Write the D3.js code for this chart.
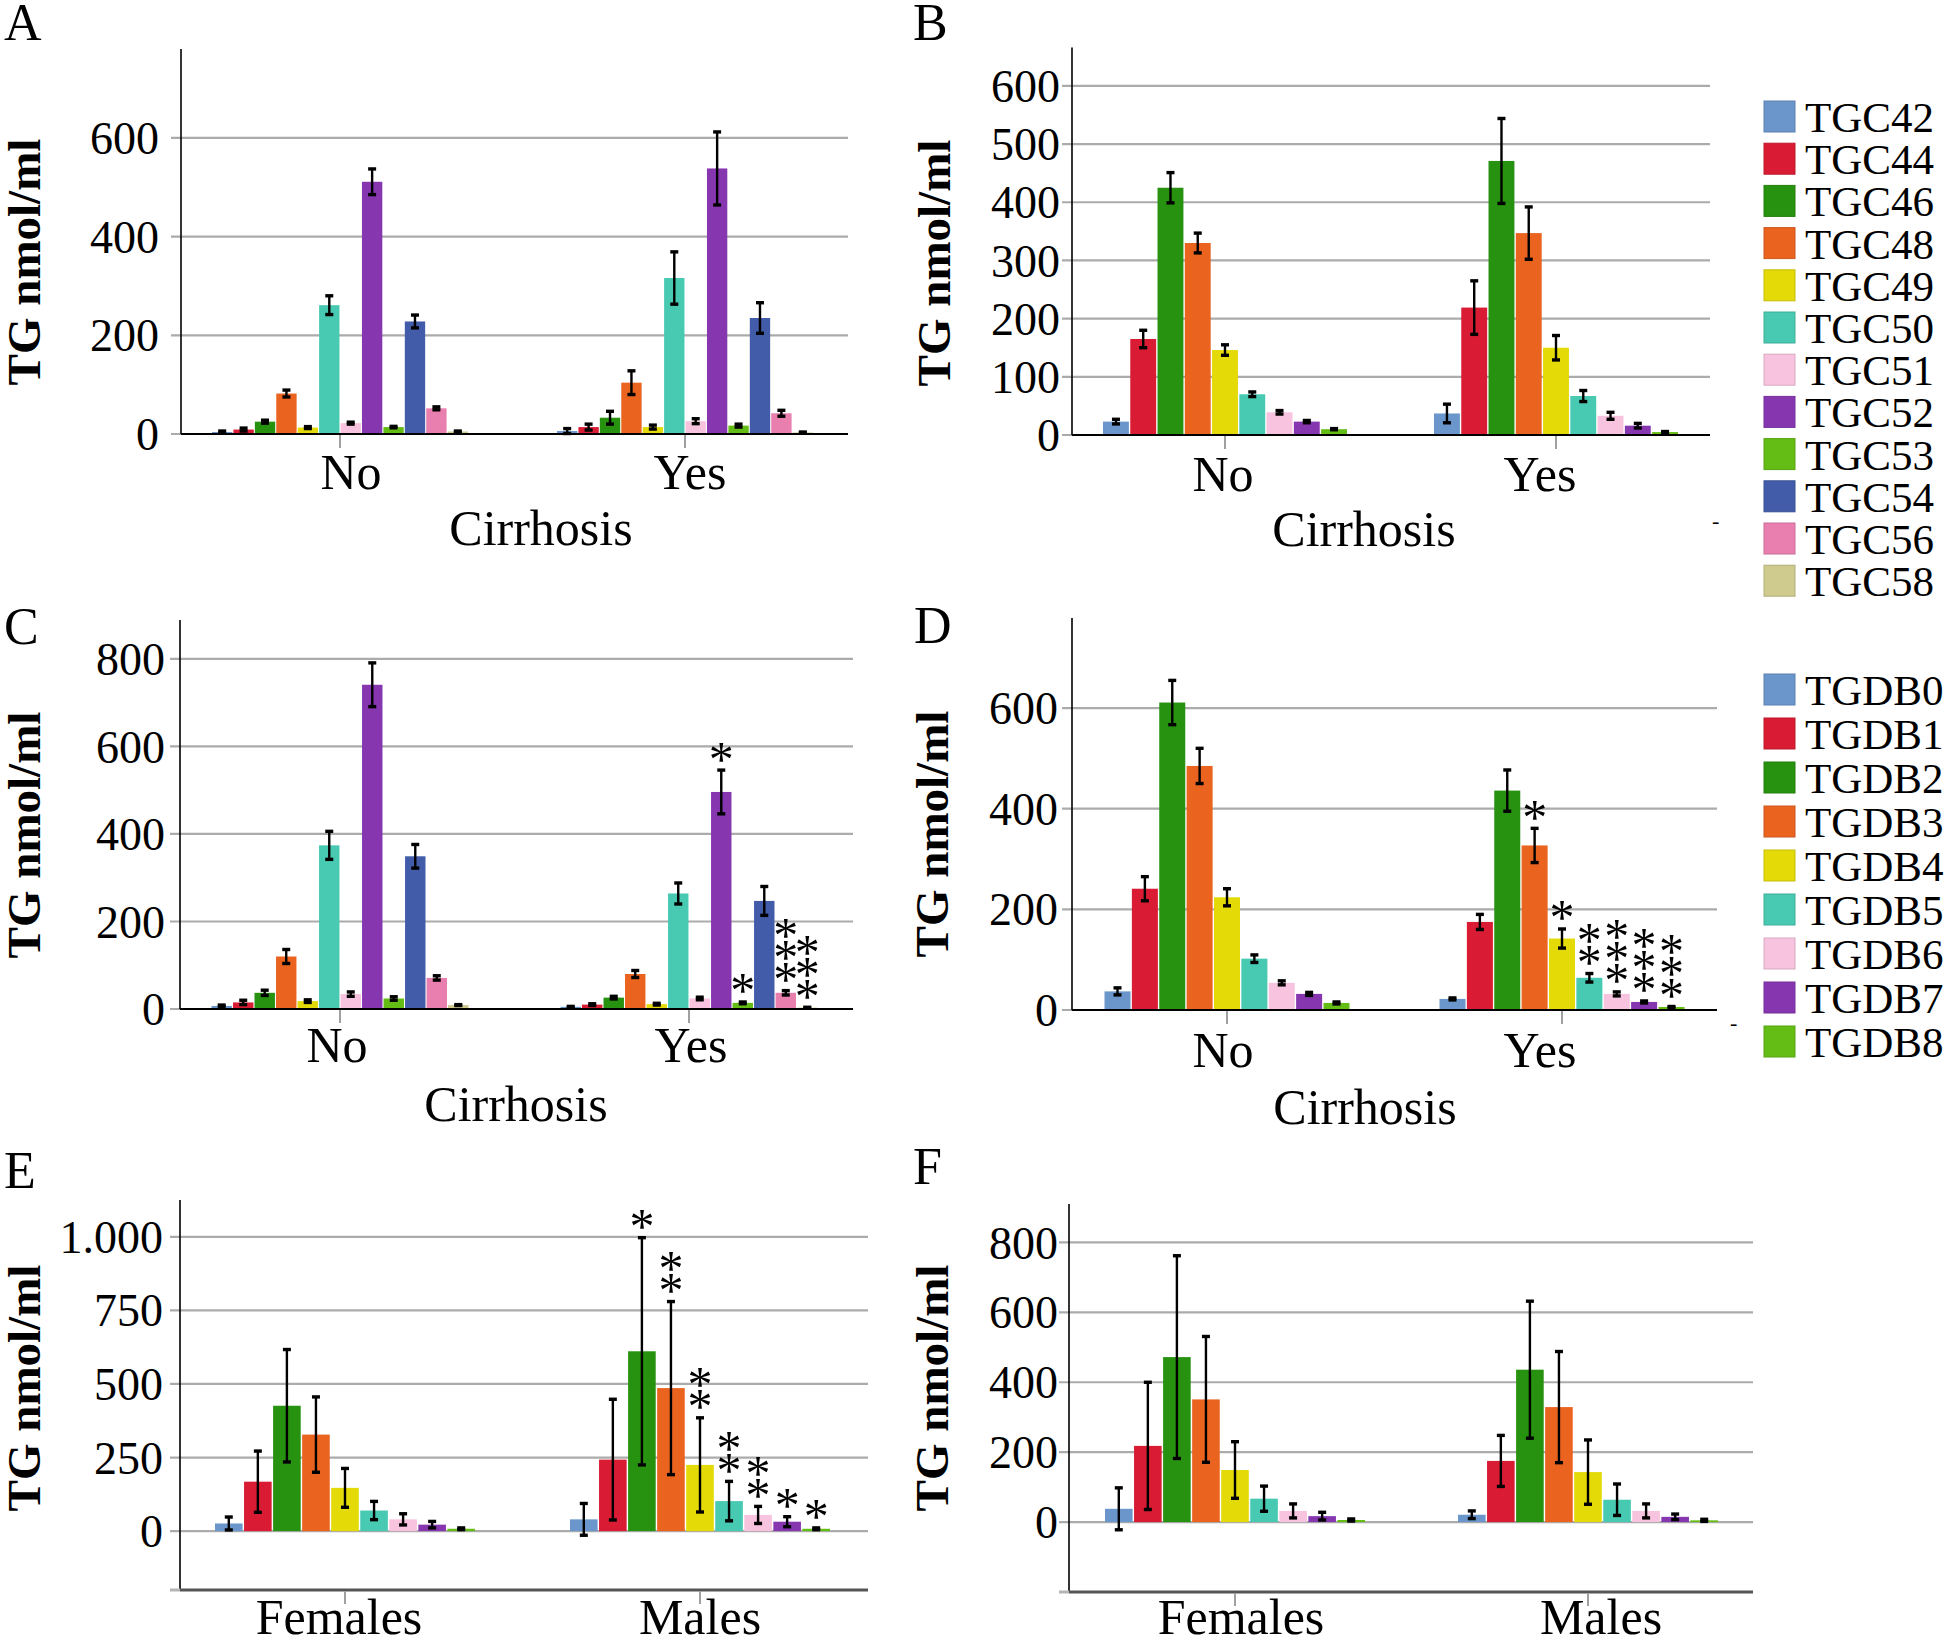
<!DOCTYPE html>
<html><head><meta charset="utf-8">
<script src="https://cdn.jsdelivr.net/npm/d3@7"></script>
<style>
body{margin:0;background:#fff}
text{font-family:"Liberation Serif","Times New Roman",serif;fill:#000}
</style>
</head><body><svg id="c" width="1944" height="1639"></svg>
<script>
// ---------- data ----------
const tgcSeries = ["TGC42","TGC44","TGC46","TGC48","TGC49","TGC50","TGC51","TGC52","TGC53","TGC54","TGC56","TGC58"];
const tgdbSeries = ["TGDB0","TGDB1","TGDB2","TGDB3","TGDB4","TGDB5","TGDB6","TGDB7","TGDB8"];
const tgcColors = ["#6a96cb","#d91c33","#27920f","#ea6420","#e3da07","#47c9b2","#f8c3df","#8637b0","#64bd15","#425caa","#e97fae","#cfca8d"];
const tgdbColors = ["#6a96cb","#d91c33","#27920f","#ea6420","#e3da07","#47c9b2","#f8c3df","#8637b0","#64bd15"];
const cirrhosisCats = ["No","Yes"];
const sexCats = ["Females","Males"];

const aMeansNo  = [4, 9, 25, 82, 13, 261, 22, 511, 14, 228, 52, 5];
const aErrNo    = [2, 3, 3, 7, 2, 19, 2, 26, 1.5, 13, 3, 1];
const aMeansYes = [6, 14, 33, 104, 14, 316, 26, 538, 17, 235, 42, 3];
const aErrYes   = [5, 6, 13, 24, 4, 53, 5, 74, 3, 31, 6, 1];

const bMeansNo  = [23, 165, 425, 330, 146, 70, 39, 23, 10];
const bErrNo    = [4, 15, 26, 17, 9, 4, 3, 2, 1];
const bMeansYes = [37, 219, 471, 347, 150, 67, 33, 16, 5];
const bErrYes   = [16, 46, 73, 45, 21, 9.5, 6, 4, 1];

const cMeansNo  = [7, 15, 37, 120, 18, 374, 34, 741, 24, 349, 71, 9];
const cErrNo    = [2, 5, 6, 16, 3, 32, 5, 50, 4, 27, 5, 1];
const cMeansYes = [5, 10, 26, 80, 11, 264, 24, 496, 14, 247, 37, 3];
const cErrYes   = [1, 2, 3, 8, 2, 24, 3, 50, 2, 33, 5, 1];
const cStarsYes = [0, 0, 0, 0, 0, 0, 0, 1, 1, 0, 3, 3];

const dMeansNo  = [37, 241, 611, 485, 224, 102, 54, 32, 14];
const dErrNo    = [7, 24, 44, 35, 17, 7.5, 4, 3, 2];
const dMeansYes = [22, 175, 436, 327, 142, 64, 32, 16, 6];
const dErrYes   = [2, 15, 41, 34, 19, 8.5, 4, 2, 1];
const dStarsYes = [0, 0, 0, 1, 1, 2, 3, 3, 3];

const eMeansF = [26, 168, 426, 328, 147, 70, 40, 22, 8];
const eErrF   = [22, 104, 191, 128, 66, 31, 19, 11, 3];
const eMeansM = [40, 243, 611, 486, 225, 102, 55, 32, 8];
const eErrM   = [54, 205, 386, 294, 160, 67, 29, 17, 3];
const eStarsM = [0, 0, 1, 2, 2, 2, 2, 1, 1];

const fMeansF = [38, 218, 472, 351, 149, 67, 32, 17, 6];
const fErrF   = [60, 182, 290, 180, 81, 36, 20, 11, 3];
const fMeansM = [21, 175, 436, 329, 143, 64, 32, 15, 5];
const fErrM   = [11, 73, 196, 159, 92, 45, 20, 8, 3];

const ticksA = [0, 200, 400, 600];
const ticksB = [0, 100, 200, 300, 400, 500, 600];
const ticksC = [0, 200, 400, 600, 800];
const ticksD = [0, 200, 400, 600];
const ticksE = [0, 250, 500, 750, 1000];
const ticksF = [0, 200, 400, 600, 800];

const yTitle = "TG nmol/ml";
const xTitleCirr = "Cirrhosis";

// ---------- layout ----------
const euro = d3.formatLocale({decimal:",", thousands:".", grouping:[3], currency:["",""]}).format(",d");

const panels = [
  {letter:"A", lx:4, ly:40, cats:cirrhosisCats, series:tgcSeries, colors:tgcColors,
   means:[aMeansNo,aMeansYes], errs:[aErrNo,aErrYes], stars:null, ticks:ticksA, fmt:d3.format("d"),
   domain:[0,780], yr:[434,49], left:181, right:848, cx:[340,685], catDx:[11,5], gw:256,
   ylabX:40, ylabY:262, tlGap:22, catY:489, title:xTitleCirr, titleX:541, titleY:545, bottomAxis:false},
  {letter:"B", lx:913, ly:40, cats:cirrhosisCats, series:tgdbSeries, colors:tgdbColors,
   means:[bMeansNo,bMeansYes], errs:[bErrNo,bErrYes], stars:null, ticks:ticksB, fmt:d3.format("d"),
   domain:[0,666], yr:[435,47.5], left:1072, right:1710, cx:[1225,1556], catDx:[-2,-16], gw:244,
   ylabX:950, ylabY:263, tlGap:12, catY:491, title:xTitleCirr, titleX:1364, titleY:546, bottomAxis:false},
  {letter:"C", lx:4, ly:644, cats:cirrhosisCats, series:tgcSeries, colors:tgcColors,
   means:[cMeansNo,cMeansYes], errs:[cErrNo,cErrYes], stars:[null,cStarsYes], ticks:ticksC, fmt:d3.format("d"),
   domain:[0,889], yr:[1009,620], left:180, right:853, cx:[340,689], catDx:[-3,2], gw:257,
   ylabX:40, ylabY:835, tlGap:15, catY:1062, title:xTitleCirr, titleX:516, titleY:1121, bottomAxis:false},
  {letter:"D", lx:914, ly:643, cats:cirrhosisCats, series:tgdbSeries, colors:tgdbColors,
   means:[dMeansNo,dMeansYes], errs:[dErrNo,dErrYes], stars:[null,dStarsYes], ticks:ticksD, fmt:d3.format("d"),
   domain:[0,779], yr:[1010,618], left:1072, right:1717, cx:[1227,1562], catDx:[-4,-22], gw:245,
   ylabX:948, ylabY:834, tlGap:14, catY:1067, title:xTitleCirr, titleX:1365, titleY:1124, bottomAxis:false},
  {letter:"E", lx:4, ly:1188, cats:sexCats, series:tgdbSeries, colors:tgdbColors,
   means:[eMeansF,eMeansM], errs:[eErrF,eErrM], stars:[null,eStarsM], ticks:ticksE, fmt:euro,
   domain:[-200,1125], yr:[1590,1200], left:180, right:868, cx:[345,700], catDx:[-6,0], gw:260,
   ylabX:40, ylabY:1388, tlGap:17, catY:1634, title:null, bottomAxis:true},
  {letter:"F", lx:913, ly:1184, cats:sexCats, series:tgdbSeries, colors:tgdbColors,
   means:[fMeansF,fMeansM], errs:[fErrF,fErrM], stars:null, ticks:ticksF, fmt:d3.format("d"),
   domain:[-200,910], yr:[1592,1204], left:1069, right:1753, cx:[1235,1588], catDx:[6,13], gw:260,
   ylabX:948, ylabY:1388, tlGap:11, catY:1634, title:null, bottomAxis:true}
];

const svg = d3.select("#c");
const FS = 46;      // tick labels
const FS_CAT = 50;  // category labels + axis titles
const STAR = 50;

panels.forEach(p => {
  const g = svg.append("g");
  const y = d3.scaleLinear().domain(p.domain).range(p.yr);
  const x0 = d3.scalePoint().domain(p.cats).range(p.cx);
  const x1 = d3.scaleBand().domain(p.series).range([-p.gw/2, p.gw/2]).paddingInner(0.05);

  // gridlines
  g.selectAll(".grid").data(p.ticks).join("line")
    .attr("x1", p.left - 10).attr("x2", p.right)
    .attr("y1", d => y(d)).attr("y2", d => y(d))
    .attr("stroke", "#ababab").attr("stroke-width", 2.2);

  // tick labels
  g.selectAll(".tl").data(p.ticks).join("text")
    .attr("x", p.left - p.tlGap).attr("y", d => y(d)).attr("dy", "0.35em")
    .attr("text-anchor", "end").style("font-size", FS + "px")
    .text(d => p.fmt(d));

  // bars
  p.cats.forEach((c, ci) => {
    const cg = g.append("g").attr("transform", `translate(${x0(c)},0)`);
    const rows = p.series.map((s, si) => ({s, si, v: p.means[ci][si], e: p.errs[ci][si],
      st: p.stars && p.stars[ci] ? p.stars[ci][si] : 0}));
    cg.selectAll("rect.bar").data(rows).join("rect")
      .attr("x", d => x1(d.s)).attr("width", x1.bandwidth())
      .attr("y", d => y(Math.max(0, d.v))).attr("height", d => Math.abs(y(0) - y(d.v)))
      .attr("fill", d => p.colors[d.si]);
    // error bars
    const eb = cg.selectAll("g.eb").data(rows).join("g")
      .attr("transform", d => `translate(${x1(d.s) + x1.bandwidth()/2},0)`);
    eb.append("line").attr("y1", d => y(d.v - d.e)).attr("y2", d => y(d.v + d.e))
      .attr("stroke", "#000").attr("stroke-width", 2.4);
    eb.append("line").attr("x1", -4).attr("x2", 4).attr("y1", d => y(d.v + d.e)).attr("y2", d => y(d.v + d.e))
      .attr("stroke", "#000").attr("stroke-width", 3.4);
    eb.append("line").attr("x1", -4).attr("x2", 4).attr("y1", d => y(d.v - d.e)).attr("y2", d => y(d.v - d.e))
      .attr("stroke", "#000").attr("stroke-width", 3.4);
    // significance stars
    eb.each(function(d) {
      for (let k = 0; k < d.st; k++) {
        d3.select(this).append("text")
          .attr("x", 0).attr("y", y(d.v + d.e) - 16 - k * 22 + STAR * 0.43)
          .attr("text-anchor", "middle").style("font-size", STAR + "px").text("*");
      }
    });
  });

  // axes
  const base = p.bottomAxis ? y(p.domain[0]) : y(0);
  g.append("line").attr("x1", p.left).attr("x2", p.left)
    .attr("y1", y(p.domain[1])).attr("y2", base)
    .attr("stroke", "#000").attr("stroke-width", 1.6);
  if (p.bottomAxis) {
    g.append("line").attr("x1", p.left - 10).attr("x2", p.left).attr("y1", base).attr("y2", base)
      .attr("stroke", "#b5b5b5").attr("stroke-width", 3);
  }
  g.append("line").attr("x1", p.left).attr("x2", p.right).attr("y1", base).attr("y2", base)
    .attr("stroke", p.bottomAxis ? "#555" : "#000").attr("stroke-width", p.bottomAxis ? 3 : 2.2);
  // x ticks
  g.selectAll(".xt").data(p.cats).join("line")
    .attr("x1", d => x0(d)).attr("x2", d => x0(d)).attr("y1", base + 1).attr("y2", base + 14)
    .attr("stroke", "#a0a0a0").attr("stroke-width", 2);
  g.selectAll(".xl").data(p.cats).join("text")
    .attr("x", (d, i) => x0(d) + p.catDx[i]).attr("y", p.catY).attr("text-anchor", "middle")
    .style("font-size", FS_CAT + "px").text(d => d);
  if (p.title) {
    g.append("text").attr("x", p.titleX).attr("y", p.titleY).attr("text-anchor", "middle")
      .style("font-size", FS_CAT + "px").text(p.title);
  }
  // y title
  g.append("text").attr("transform", `translate(${p.ylabX},${p.ylabY}) rotate(-90)`)
    .attr("text-anchor", "middle").style("font-size", "47px").style("font-weight", "bold")
    .text(yTitle);
  // letter
  g.append("text").attr("x", p.lx).attr("y", p.ly).style("font-size", "52px").text(p.letter);
});

// ---------- legends ----------
function legend(series, colors, top, step) {
  const lg = svg.append("g");
  const it = lg.selectAll("g").data(series).join("g")
    .attr("transform", (d, i) => `translate(1764,${top + i * step})`);
  it.append("rect").attr("width", 31).attr("height", 31)
    .attr("fill", (d, i) => colors[i]).attr("stroke", (d, i) => d3.color(colors[i]).darker(0.4)).attr("stroke-width", 1);
  it.append("text").attr("x", 41).attr("y", 31).style("font-size", "43px").text(d => d);
}
legend(tgcSeries, tgcColors, 101, 42.2);
legend(tgdbSeries, tgdbColors, 674, 44);

svg.append("text").attr("x", 1712).attr("y", 528).style("font-size", "22px").text("-");
svg.append("text").attr("x", 1730).attr("y", 1030).style("font-size", "22px").text("-");
</script>
</body></html>
